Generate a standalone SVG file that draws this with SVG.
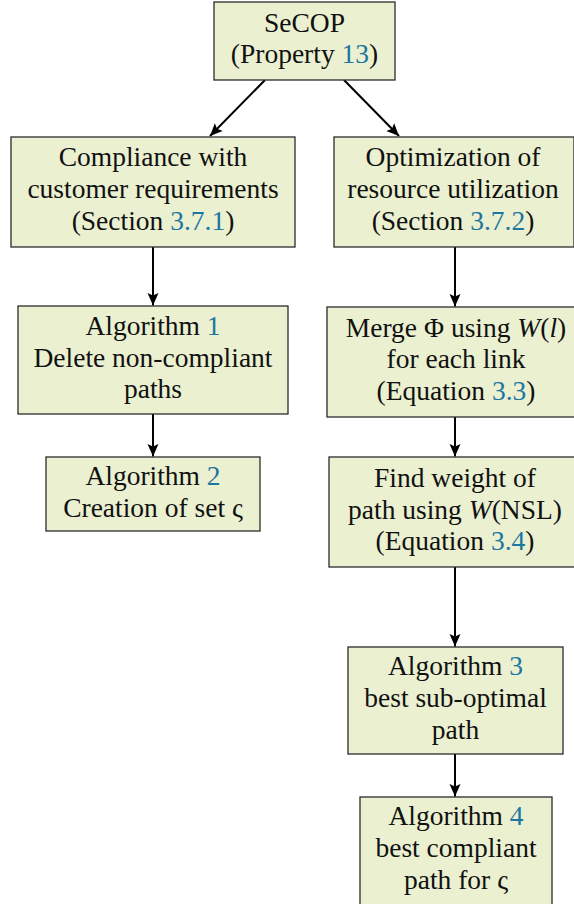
<svg xmlns="http://www.w3.org/2000/svg" width="574" height="904" viewBox="0 0 574 904">
<defs>
<style>
.box{fill:#eaf0d0;stroke:#2b2b2b;stroke-width:1.3}
text{font-family:"Liberation Serif","DejaVu Serif",serif;font-size:27.5px;fill:#111;text-anchor:middle}
.ref{fill:#1d76a0}
.it{font-style:italic}
.edge{stroke:#000;stroke-width:2;fill:none;marker-end:url(#ah)}
</style>
<marker id="ah" viewBox="-14 -7 15 14" refX="0" refY="0" markerWidth="15" markerHeight="14" orient="auto" markerUnits="userSpaceOnUse" overflow="visible">
<path d="M0,0 L-12.5,-5.5 L-10,0 L-12.5,5.5 z" fill="#000"/>
</marker>
</defs>
<rect width="574" height="904" fill="#fff"/>
<g id="edges">
<line class="edge" x1="265" y1="80" x2="210" y2="136"/>
<line class="edge" x1="344" y1="80" x2="399" y2="136"/>
<line class="edge" x1="153" y1="247" x2="153" y2="305.5"/>
<line class="edge" x1="153" y1="414" x2="153" y2="456.5"/>
<line class="edge" x1="455" y1="247" x2="455" y2="306.5"/>
<line class="edge" x1="455" y1="417" x2="455" y2="456.5"/>
<line class="edge" x1="455" y1="567" x2="455" y2="646.5"/>
<line class="edge" x1="455" y1="754" x2="455" y2="796.5"/>
</g>
<g id="secop">
<rect class="box" x="214" y="2" width="181" height="78"/>
<text x="304.5" y="32">SeCOP</text>
<text x="304.5" y="63">(Property <tspan class="ref">13</tspan>)</text>
</g>
<g id="compliance">
<rect class="box" x="11" y="137" width="284" height="110"/>
<text x="153" y="166">Compliance with</text>
<text x="153" y="198">customer requirements</text>
<text x="153" y="230">(Section <tspan class="ref">3.7.1</tspan>)</text>
</g>
<g id="optimization">
<rect class="box" x="334" y="137" width="240" height="110"/>
<text x="453" y="166">Optimization of</text>
<text x="453" y="198">resource utilization</text>
<text x="453" y="230">(Section <tspan class="ref">3.7.2</tspan>)</text>
</g>
<g id="alg1">
<rect class="box" x="18" y="306" width="270" height="108"/>
<text x="153" y="335">Algorithm <tspan class="ref">1</tspan></text>
<text x="153" y="367">Delete non-compliant</text>
<text x="153" y="398">paths</text>
</g>
<g id="alg2">
<rect class="box" x="46" y="457" width="214" height="74"/>
<text x="153" y="485">Algorithm <tspan class="ref">2</tspan></text>
<text x="153" y="517">Creation of set ς</text>
</g>
<g id="merge">
<rect class="box" x="327" y="307" width="250" height="110"/>
<text x="456" y="337">Merge Φ using <tspan class="it">W</tspan>(<tspan class="it">l</tspan>)</text>
<text x="456" y="368">for each link</text>
<text x="456" y="400">(Equation <tspan class="ref">3.3</tspan>)</text>
</g>
<g id="weight">
<rect class="box" x="329" y="457" width="248" height="110"/>
<text x="455" y="487">Find weight of</text>
<text x="455" y="519">path using <tspan class="it">W</tspan>(NSL)</text>
<text x="455" y="550">(Equation <tspan class="ref">3.4</tspan>)</text>
</g>
<g id="alg3">
<rect class="box" x="348" y="647" width="215" height="107"/>
<text x="455.5" y="675">Algorithm <tspan class="ref">3</tspan></text>
<text x="455.5" y="707">best sub-optimal</text>
<text x="455.5" y="739">path</text>
</g>
<g id="alg4">
<rect class="box" x="360" y="797" width="192" height="110"/>
<text x="456" y="825">Algorithm <tspan class="ref">4</tspan></text>
<text x="456" y="857">best compliant</text>
<text x="456" y="889">path for ς</text>
</g>
</svg>
